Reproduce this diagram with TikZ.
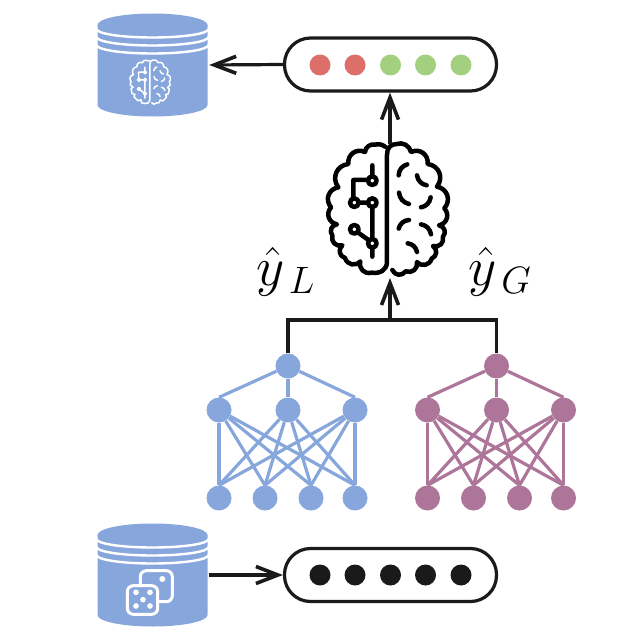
\documentclass[tikz,border=0pt]{standalone}
\usetikzlibrary{arrows.meta}

\definecolor{storeblue}{HTML}{87A7DC}
\definecolor{netpurple}{HTML}{AD7599}
\definecolor{dotred}{HTML}{DD6F6B}
\definecolor{dotgreen}{HTML}{A3D07E}
\definecolor{inkdark}{HTML}{1A1A1A}

\tikzset{
  link/.style={draw=inkdark,line width=3.2pt},
  flow/.style={link,-{Straight Barb[length=22pt,width=17pt,line width=3.6pt]}},
  pill/.style={draw=inkdark,line width=3.2pt,rounded corners=26pt,minimum width=212pt,minimum height=53pt,inner sep=0pt,fill=white},
  dot/.style={circle,inner sep=0pt,minimum size=21pt,fill=#1},
  neuron/.style={circle,inner sep=0pt,minimum size=25pt,fill=#1},
  store/.style={inner sep=0pt,minimum width=113pt,minimum height=102pt},
  label/.style={inner sep=0pt,scale=2.65,text=black},
  bumpl/.style={bend left=60,looseness=1.2},
  bumpr/.style={bend right=60,looseness=1.2},
}

% #1 = name, #2 = centre x, #3 = centre y
\newcommand{\storedrum}[3]{
  \fill[storeblue] (#2-55,#3-40) -- (#2-55,#3+40) arc[start angle=180,end angle=0,x radius=55,y radius=11.5]
    -- (#2+55,#3-40) -- cycle;
  \fill[storeblue] (#2,#3-40) ellipse[x radius=55,y radius=11.5];
  \foreach \drop in {0,8,16}
    \draw[white,line width=2.4pt] (#2-56,#3-36+\drop) arc[start angle=180,end angle=0,x radius=56,y radius=8.5];
  \node[store] (#1) at (#2,#3) {};
}

% #1 = origin, #2 = unit, #3 = colour, #4 = line width
\newcommand{\brainicon}[4]{
  \begin{scope}[shift={#1},x=#2pt,y=-#2pt,draw=#3,line width=#4pt,line cap=round,line join=round]
    \draw (232,420) to[bumpr] (272,424) to[bumpr] (306,396)
      to[bumpr] (350,386) to[bumpr] (354,348) to[bumpr] (384,320)
      to[bumpr] (372,286) to[bumpr] (388,235) to[bumpr] (366,170)
      to[bumpr] (338,102) to[bumpr] (288,66) to[bend right=50] (245,42)
      .. controls (225,42) and (216,55) .. (216,75) -- (216,395)
      .. controls (216,420) and (195,432) .. (170,428)
      to[bumpl] (136,394) to[bumpl] (90,384) to[bumpl] (82,346)
      to[bumpl] (52,316) to[bumpl] (66,283) to[bumpl] (48,232)
      to[bumpl] (70,172) to[bumpl] (100,102) to[bumpl] (150,66)
      to[bend left=50] (180,44) to[bend left=25] (210,50);
    % circuit side
    \draw (172,106) -- (172,139) (172,152) circle[radius=13] (159,150) -- (115,150) -- (115,205);
    \draw (118,218) circle[radius=13] (131,218) -- (159,218) (172,218) circle[radius=13];
    \draw (172,231) -- (172,327) (172,340) circle[radius=13] (172,353) -- (172,380);
    \draw (118,298) circle[radius=13] (128,307) -- (162,331);
    % folds side
    \draw (277,103) to[bend right=35] (251,136) (306,136) to[bend right=35] (335,166);
    \draw (252,188) to[bend right=35] (282,222) (347,202) to[bend left=35] (318,232);
    \draw (282,270) to[bend right=35] (251,296) (318,283) to[bend left=35] (348,313);
    \draw (278,340) to[bend left=35] (306,366);
  \end{scope}
}

\begin{document}
\begin{tikzpicture}[x=1pt,y=-1pt]
  \useasboundingbox (0,0) rectangle (640,642);

  \storedrum{outstore}{152.5}{65}
  \storedrum{instore}{152.5}{575}

  % icon on the upper drum
  \brainicon{(125.6,55.3)}{0.1127}{white}{1.5}

  % dice on the lower drum
  \begin{scope}[shift={(85,515)},x=0.3333pt,y=-0.3333pt,draw=white,line width=3pt,line join=round]
    \draw[rounded corners=6pt] (127,212) rectangle (218,298);
    \draw[rounded corners=6pt] (166,208) -- (166,167) -- (262,167) -- (262,260) -- (222,260);
    \fill[white] (232,192) circle[radius=9];
    \foreach \pipx/\pipy in {153/232,195/232,174/254,153/273,195/273}
      \fill[white] (\pipx,\pipy) circle[radius=8.5];
  \end{scope}

  % prediction and input vectors
  \node[pill] (outvec) at (390.5,64.5) {};
  \node[pill] (invec) at (390.5,575) {};
  \foreach \i/\px/\tint in {1/320/dotred,2/355/dotred,3/390.5/dotgreen,4/425.5/dotgreen,5/461/dotgreen}
    \node[dot=\tint] (out\i) at (\px,65) {};
  \foreach \i/\px in {1/320,2/355,3/390.5,4/425.5,5/461}
    \node[dot=inkdark] (in\i) at (\px,575) {};

  % the two networks
  \foreach \net/\shift/\tint in {L/0/storeblue,G/208.5/netpurple} {
    \node[neuron=\tint] (top\net) at (288+\shift,366) {};
    \foreach \i/\px in {1/219,2/288,3/355}
      \node[neuron=\tint] (mid\net\i) at (\px+\shift,410) {};
    \foreach \i/\px in {1/219,2/265,3/311,4/355}
      \node[neuron=\tint] (low\net\i) at (\px+\shift,498) {};
    \foreach \i in {1,2,3} {
      \draw[\tint,line width=3.2pt] (top\net) -- (mid\net\i.north);
      \foreach \j in {1,2,3,4}
        \draw[\tint,line width=3.2pt] (mid\net\i) -- (low\net\j.north);
    }
  }

  \brainicon{(315,130)}{0.3333}{black}{4.5}
  \coordinate (braintop) at (390,144);
  \coordinate (brainfoot) at (390,278);
  \coordinate (busmid) at (390,320);

  \draw[link] (topL.north) |- (busmid) -| (topG.north);
  \draw[flow] (busmid) -- (brainfoot);
  \draw[flow] (braintop) -- (outvec.south -| braintop);
  \draw[flow] (outvec.west) -- (outstore.east);
  \draw[flow] (instore.east) -- (invec.west);

  \node[label] (yl) at (286,272) {\huge$\hat{y}_{\,L}$};
  \node[label] (yg) at (500.5,272) {\huge$\hat{y}_{\,G}$};
\end{tikzpicture}
\end{document}
